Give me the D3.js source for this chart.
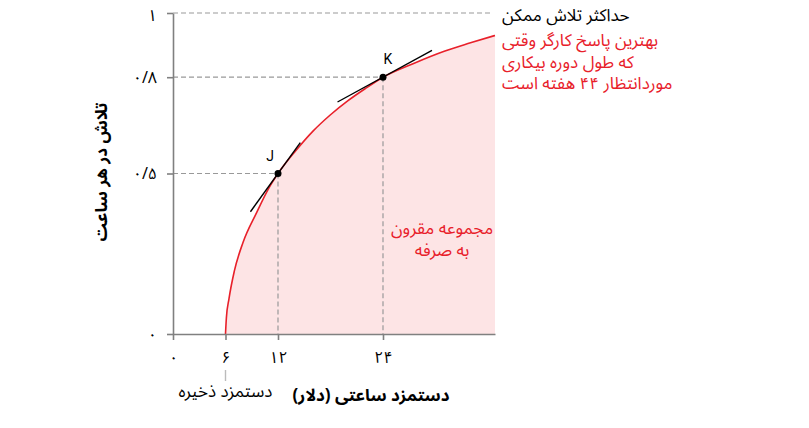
<!DOCTYPE html>
<html>
<head>
<meta charset="utf-8">
<script src="https://cdn.jsdelivr.net/npm/d3@7"></script>
<style>
  body { margin: 0; background: #fff; }
  text { font-family: "Noto Sans Arabic", "DejaVu Sans", sans-serif; }
</style>
</head>
<body>
<svg id="drawing_region"></svg>
<script>
// best response curve (hourly wage -> effort per hour)
const wage   = [6, 6.1, 6.4, 7, 8, 9.5, 11, 12, 14, 16, 18, 20, 22, 24, 27.5, 31, 34, 36.8];
const effort = [0, 0.05, 0.11, 0.195, 0.285, 0.375, 0.457, 0.5, 0.57, 0.632, 0.683, 0.727, 0.765, 0.8, 0.843, 0.881, 0.907, 0.93];

const xTicks = [0, 6, 12, 24];
const xTickLabels = ['۰', '۶', '۱۲', '۲۴'];
const yTicks = [0, 0.5, 0.8, 1];
const yTickLabels = ['۰', '۰/۵', '۰/۸', '۱'];

// points J, K and their tangents (slope in effort per dollar)
const pointNames = ['J', 'K'];
const pointWage = [12, 24];
const pointEffort = [0.5, 0.8];
const tangentSlope = [0.0378, 0.01486];
const tangentFrom = [8.85, 18.8];
const tangentTo = [14.55, 29.6];

const maxEffort = 1;
const xMax = 36.8;

const xTitle = 'دستمزد ساعتی (دلار)';
const yTitle = 'تلاش در هر ساعت';
const reserveLabel = 'دستمزد ذخیره';
const maxLabel = 'حداکثر تلاش ممکن';
const curveLabel = ['بهترین پاسخ کارگر وقتی', 'که طول دوره بیکاری', 'موردانتظار ۴۴ هفته است'];
const setLabel = ['مجموعه مقرون', 'به صرفه'];

const red = '#e8202a';
const grey = '#808080';

const svg = d3.select('#drawing_region')
    .attr('width', 809)
    .attr('height', 428);

const margin = {top: 13, left: 173};
const inner_width = 322, inner_height = 321;

const chart = svg.append('g')
    .attr('transform', `translate(${margin.left}, ${margin.top})`);

const xscale = d3.scaleLinear().domain([0, xMax]).range([0, inner_width]);
const yscale = d3.scaleLinear().domain([0, 1]).range([inner_height, 0]);

const data = wage.map((w, i) => ({w: w, e: effort[i]}));

// feasible set
chart.append('path')
    .datum(data)
    .attr('fill', '#fde4e5')
    .attr('d', d3.area()
        .x(d => xscale(d.w))
        .y0(yscale(0))
        .y1(d => yscale(d.e))
        .curve(d3.curveMonotoneX));

// dashed guides
const dash = chart.append('g')
    .attr('stroke', '#999')
    .attr('stroke-width', 1.2)
    .attr('stroke-dasharray', '5,3')
    .attr('fill', 'none');

dash.append('line')
    .attr('x1', 0).attr('x2', xscale(xMax) - 2)
    .attr('y1', yscale(maxEffort)).attr('y2', yscale(maxEffort));

pointNames.forEach((n, i) => {
    dash.append('line')
        .attr('x1', 0).attr('x2', xscale(pointWage[i]))
        .attr('y1', yscale(pointEffort[i])).attr('y2', yscale(pointEffort[i]));
    dash.append('line')
        .attr('x1', xscale(pointWage[i])).attr('x2', xscale(pointWage[i]))
        .attr('y1', yscale(pointEffort[i])).attr('y2', yscale(0));
});

// best response curve
chart.append('path')
    .datum(data)
    .attr('fill', 'none')
    .attr('stroke', red)
    .attr('stroke-width', 1.6)
    .attr('d', d3.line()
        .x(d => xscale(d.w))
        .y(d => yscale(d.e))
        .curve(d3.curveMonotoneX));

// axes
const xaxis = d3.axisBottom(xscale)
    .tickValues(xTicks)
    .tickFormat((d, i) => xTickLabels[i])
    .tickSize(6)
    .tickPadding(12)
    .tickSizeOuter(0);

const yaxis = d3.axisLeft(yscale)
    .tickValues(yTicks)
    .tickFormat((d, i) => yTickLabels[i])
    .tickSize(6)
    .tickPadding(10)
    .tickSizeOuter(0);

const xaxis_group = chart.append('g')
    .attr('transform', `translate(0, ${inner_height})`)
    .call(xaxis);

const yaxis_group = chart.append('g')
    .call(yaxis);

[xaxis_group, yaxis_group].forEach(g => {
    g.select('.domain').attr('stroke', grey).attr('stroke-width', 1.6);
    g.selectAll('.tick line').attr('stroke', grey).attr('stroke-width', 1.6);
    g.selectAll('.tick text')
        .attr('fill', '#000')
        .style('font-size', '16px')
        .style('font-family', '"Noto Sans Arabic", "DejaVu Sans", sans-serif');
});
// the top tick label sits a bit lower so it stays inside the page
yaxis_group.selectAll('.tick text').filter(d => d === 1).attr('dy', '0.45em');

// tangents and points
pointNames.forEach((n, i) => {
    const f = w => pointEffort[i] + tangentSlope[i] * (w - pointWage[i]);
    chart.append('line')
        .attr('x1', xscale(tangentFrom[i])).attr('y1', yscale(f(tangentFrom[i])))
        .attr('x2', xscale(tangentTo[i])).attr('y2', yscale(f(tangentTo[i])))
        .attr('stroke', '#000')
        .attr('stroke-width', 1.4);
    chart.append('circle')
        .attr('cx', xscale(pointWage[i]))
        .attr('cy', yscale(pointEffort[i]))
        .attr('r', 3.5)
        .attr('fill', '#000');
    chart.append('text')
        .attr('x', xscale(pointWage[i]) + (i === 0 ? -8 : 5))
        .attr('y', yscale(pointEffort[i]) - 13)
        .attr('text-anchor', 'middle')
        .style('font-family', 'Roboto, "DejaVu Sans", sans-serif')
        .style('font-size', '14px')
        .text(n);
});

// reserve wage marker
chart.append('line')
    .attr('x1', xscale(6)).attr('x2', xscale(6))
    .attr('y1', inner_height + 36).attr('y2', inner_height + 47)
    .attr('stroke', '#bbb')
    .attr('stroke-width', 1.4);

chart.append('text')
    .attr('x', xscale(6))
    .attr('y', inner_height + 63)
    .attr('text-anchor', 'middle')
    .attr('direction', 'rtl')
    .style('font-size', '17px')
    .text(reserveLabel);

// axis titles
chart.append('text')
    .attr('x', 198)
    .attr('y', inner_height + 67)
    .attr('text-anchor', 'middle')
    .attr('direction', 'rtl')
    .style('font-size', '17px')
    .style('font-weight', 'bold')
    .text(xTitle);

chart.append('text')
    .attr('transform', `translate(-66, ${172 - margin.top}) rotate(-90)`)
    .attr('text-anchor', 'middle')
    .attr('direction', 'rtl')
    .style('font-size', '17px')
    .style('font-weight', 'bold')
    .text(yTitle);

// right side labels
chart.append('text')
    .attr('x', 329)
    .attr('y', 8)
    .attr('text-anchor', 'end')
    .attr('direction', 'rtl')
    .style('font-size', '17px')
    .text(maxLabel);

curveLabel.forEach((t, i) => {
    chart.append('text')
        .attr('x', 329)
        .attr('y', 33 + i * 21.5)
        .attr('text-anchor', 'end')
        .attr('direction', 'rtl')
        .attr('fill', red)
        .style('font-size', '17px')
        .text(t);
});

setLabel.forEach((t, i) => {
    chart.append('text')
        .attr('x', 269)
        .attr('y', 221 + i * 21.5)
        .attr('text-anchor', 'middle')
        .attr('direction', 'rtl')
        .attr('fill', red)
        .style('font-size', '17px')
        .text(t);
});
</script>
</body>
</html>
